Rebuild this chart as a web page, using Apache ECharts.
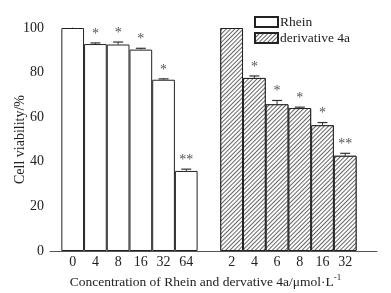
<!DOCTYPE html>
<html>
<head>
<meta charset="utf-8">
<script src="https://cdn.jsdelivr.net/npm/echarts@6/dist/echarts.min.js"></script>
<style>
  html, body { margin: 0; padding: 0; background: #fff; }
  #chart { width: 391px; height: 293px; }
</style>
</head>
<body>
<div id="chart"></div>
<script>
// Rhein group
var rheinDose = ['0', '4', '8', '16', '32', '64'];
var rheinViability = [100, 92.8, 92.6, 90.3, 76.8, 35.9];
var rheinErr = [0, 0.5, 1.1, 0.6, 0.4, 0.8];
var rheinSig = ['', '*', '*', '*', '*', '**'];

// derivative 4a group
var derivDose = ['2', '4', '6', '8', '16', '32'];
var derivViability = [100, 77.6, 65.8, 64.1, 56.4, 42.7];
var derivErr = [0, 0.9, 1.7, 0.4, 1.2, 1.1];
var derivSig = ['', '*', '*', '*', '*', '**'];

var yTicks = [0, 20, 40, 60, 80, 100];

// slot on the x scale: group one at 0..5, one empty slot, group two at 7..12
var groupShift = rheinDose.length + 1;
var xLabels = {};
rheinDose.forEach(function (d, i) { xLabels[i] = d; });
derivDose.forEach(function (d, i) { xLabels[i + groupShift] = d; });

var rheinData = rheinViability.map(function (v, i) { return [i, v]; });
var derivData = derivViability.map(function (v, i) { return [i + groupShift, v]; });

var errData = [], sigText = [];
rheinViability.forEach(function (v, i) { errData.push([i, v, rheinErr[i]]); sigText.push(rheinSig[i]); });
derivViability.forEach(function (v, i) { errData.push([i + groupShift, v, derivErr[i]]); sigText.push(derivSig[i]); });

var serif = '"Liberation Serif", "DejaVu Serif", serif';

var chart = echarts.init(document.getElementById('chart'));
var option = {
  animation: false,
  backgroundColor: '#fff',
  grid: { left: 50, right: 14, top: 28, bottom: 42, outerBoundsMode: 'none', containLabel: false },
  legend: {
    orient: 'vertical',
    left: 249,
    top: 10,
    itemWidth: 23,
    itemHeight: 10,
    itemGap: 2,
    icon: 'rect',
    textStyle: { fontFamily: serif, fontSize: 13.5, color: '#222', padding: [0, 0, 0, -3] },
    data: ['Rhein', 'derivative 4a']
  },
  xAxis: {
    type: 'value',
    min: -1,
    max: 13.4,
    interval: 1,
    splitLine: { show: false },
    axisTick: { show: false },
    axisLine: { lineStyle: { color: '#555', width: 1 } },
    axisLabel: {
      margin: 4,
      fontFamily: serif,
      fontSize: 14,
      color: '#222',
      showMinLabel: true,
      showMaxLabel: true,
      formatter: function (v) { return xLabels[v] !== undefined ? xLabels[v] : ''; }
    },
    name: 'Concentration of Rhein and dervative 4a/\u03bcmol\u00b7L{sup|-1}',
    nameLocation: 'middle',
    nameGap: 22,
    nameMoveOverlap: false,
    nameTextStyle: {
      fontFamily: serif,
      fontSize: 13.5,
      color: '#222',
      padding: [0, 16, 0, 0],
      rich: { sup: { fontFamily: serif, fontSize: 9, color: '#222', verticalAlign: 'top', padding: [0, 0, 9, 0] } }
    }
  },
  yAxis: {
    type: 'value',
    min: yTicks[0],
    max: yTicks[yTicks.length - 1],
    interval: 20,
    splitLine: { show: false },
    axisLine: { show: true, lineStyle: { color: '#555', width: 1 } },
    axisTick: { show: true, length: 4, lineStyle: { color: '#555' } },
    axisLabel: { margin: 6, fontFamily: serif, fontSize: 14, color: '#222' },
    name: 'Cell viability/%',
    nameLocation: 'middle',
    nameGap: 23,
    nameMoveOverlap: false,
    nameTextStyle: { fontFamily: serif, fontSize: 14, color: '#222' }
  },
  series: [
    {
      name: 'Rhein',
      type: 'bar',
      barWidth: 22.7,
      barGap: '-100%',
      itemStyle: { color: '#fff', borderColor: '#222', borderWidth: 1 },
      data: rheinData
    },
    {
      name: 'derivative 4a',
      type: 'bar',
      barWidth: 22.7,
      barGap: '-100%',
      itemStyle: {
        color: '#fff',
        borderColor: '#222',
        borderWidth: 1,
        decal: {
          symbol: 'rect',
          symbolSize: 1,
          color: '#666',
          backgroundColor: '#fff',
          dashArrayX: [1, 0],
          dashArrayY: [1, 2],
          rotation: -Math.PI / 4
        }
      },
      data: derivData
    },
    {
      name: 'err',
      type: 'custom',
      z: 5,
      renderItem: function (params, api) {
        var x = api.value(0), v = api.value(1), e = api.value(2);
        var top = api.coord([x, v]);
        var cap = api.coord([x, v + e]);
        var children = [];
        if (e > 0) {
          children.push({ type: 'line', shape: { x1: top[0], y1: top[1], x2: cap[0], y2: cap[1] }, style: { stroke: '#333', lineWidth: 1 } });
          children.push({ type: 'line', shape: { x1: cap[0] - 5, y1: cap[1], x2: cap[0] + 5, y2: cap[1] }, style: { stroke: '#333', lineWidth: 1.2 } });
        }
        var s = sigText[params.dataIndex];
        if (s) {
          children.push({
            type: 'text',
            style: { x: cap[0], y: cap[1] - 2, text: s, align: 'center', verticalAlign: 'bottom', font: '14px ' + serif, fill: '#555' }
          });
        }
        return { type: 'group', children: children };
      },
      data: errData
    }
  ]
};
chart.setOption(option);
window.addEventListener('resize', chart.resize);
</script>
</body>
</html>
